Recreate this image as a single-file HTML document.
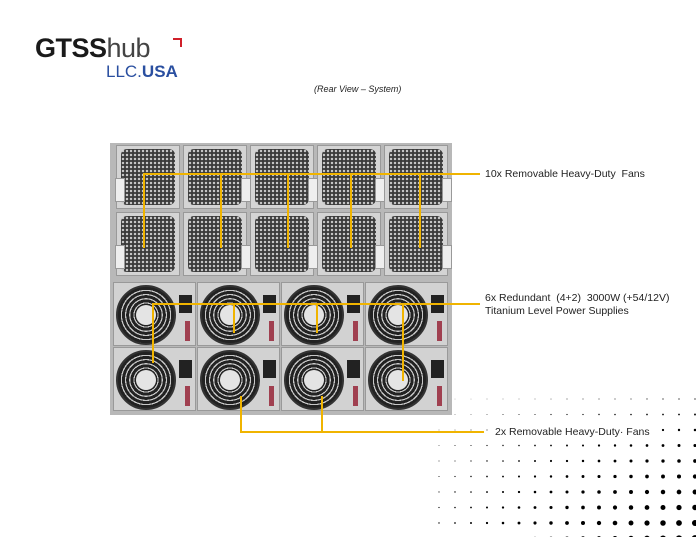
<!DOCTYPE html>
<html><head><meta charset="utf-8"><style>
body{margin:0;width:696px;height:537px;background:#fff;position:relative;overflow:hidden;font-family:"Liberation Sans",sans-serif}
.abs{position:absolute}
.fan{position:absolute;width:64px;height:64px;background:#d4d4d4;border:1px solid #999;box-sizing:border-box}
.fan .g{position:absolute;left:4px;top:3px;right:4px;bottom:3px;background:#3a3a3a radial-gradient(circle,#c4c4c4 1.1px,transparent 1.4px) 0 0/4px 4px;border-radius:6px}
.fan .h{position:absolute;top:32px;width:8px;height:22px;background:#eee;border:1px solid #999}
.psu{position:absolute;width:83px;height:64px;background:#d2d2d2;border:1px solid #999;box-sizing:border-box}
.psu .c{position:absolute;left:2px;top:2px;width:60px;height:60px;border-radius:50%;background:repeating-radial-gradient(circle,#222 0 3px,#c8c8c8 3px 4.2px);border:2px solid #333;box-sizing:border-box}
.psu .c i{position:absolute;left:18px;top:18px;width:20px;height:20px;border-radius:50%;background:#e4e4e4}
.psu .p{position:absolute;left:65px;top:12px;width:13px;height:18px;background:#222}
.psu .r{position:absolute;left:71px;top:38px;width:5px;height:20px;background:#a04050}
.y{position:absolute;background:#f0b400}
.lbl{position:absolute;font-size:10.5px;color:#222}
</style></head><body>
<svg class="abs" style="left:0;top:0" width="696" height="537" id="dots"></svg>
<div class="abs" style="left:35px;top:33px;font-size:27px;font-weight:bold;color:#1a1a1a;letter-spacing:-0.5px">GTSS<span style="font-weight:normal;color:#444">hub</span></div>
<div class="abs" style="left:173px;top:38px;width:7px;height:7px;border-top:2px solid #d0202a;border-right:2px solid #d0202a"></div>
<div class="abs" style="left:106px;top:62px;font-size:17px;color:#2a4fa0"><span style="font-weight:normal">LLC.</span><b>USA</b></div>
<div class="abs" style="left:314px;top:84px;font-size:9px;font-style:italic;color:#222">(Rear View – System)</div>
<div class="abs" style="left:110px;top:143px;width:342px;height:272px;background:#b8b8b8"></div>
<div id="srv"></div>
<div class="y" style="left:143px;top:173px;width:337px;height:2px"></div>
<div class="y" style="left:143px;top:173px;width:2px;height:75px"></div>
<div class="y" style="left:220px;top:173px;width:2px;height:75px"></div>
<div class="y" style="left:287px;top:173px;width:2px;height:75px"></div>
<div class="y" style="left:350px;top:173px;width:2px;height:75px"></div>
<div class="y" style="left:419px;top:173px;width:2px;height:75px"></div>
<div class="y" style="left:152px;top:303px;width:328px;height:2px"></div>
<div class="y" style="left:152px;top:303px;width:2px;height:60px"></div>
<div class="y" style="left:233px;top:303px;width:2px;height:30px"></div>
<div class="y" style="left:316px;top:303px;width:2px;height:30px"></div>
<div class="y" style="left:402px;top:303px;width:2px;height:78px"></div>
<div class="y" style="left:240px;top:396px;width:2px;height:37px"></div>
<div class="y" style="left:321px;top:396px;width:2px;height:37px"></div>
<div class="y" style="left:240px;top:431px;width:244px;height:2px"></div>
<div class="lbl" style="left:485px;top:168px">10x Removable Heavy-Duty&nbsp; Fans</div>
<div class="lbl" style="left:485px;top:292px;line-height:13px">6x Redundant&nbsp; (4+2)&nbsp; 3000W (+54/12V)<br>Titanium Level Power Supplies</div>
<div class="lbl" style="left:495px;top:426px;background:#fff">2x Removable Heavy-Duty· Fans</div>
<script>
var s='';
for(var r=0;r<2;r++)for(var i=0;i<5;i++){var x=116+i*67,y=145+r*67;
s+='<div class="fan" style="left:'+x+'px;top:'+y+'px"><div class="g"></div><div class="h" style="left:'+(i==0?-2:57)+'px"></div></div>';}
for(var r=0;r<2;r++)for(var i=0;i<4;i++){var x=113+i*84,y=282+r*65;
s+='<div class="psu" style="left:'+x+'px;top:'+y+'px"><div class="c"><i></i></div><div class="p"></div><div class="r"></div></div>';}
document.getElementById('srv').innerHTML=s;
var d='';
for(var y=399;y<545;y+=15.5)for(var x=439;x<700;x+=16){
var a=(x-439)/256,b=(y-399)/140;
var rr=0.25+0.5*b+2.2*a*b+0.4*a;
d+='<circle cx="'+x+'" cy="'+y.toFixed(1)+'" r="'+rr.toFixed(2)+'" fill="#000"/>';}
document.getElementById('dots').innerHTML=d;
</script>
</body></html>
